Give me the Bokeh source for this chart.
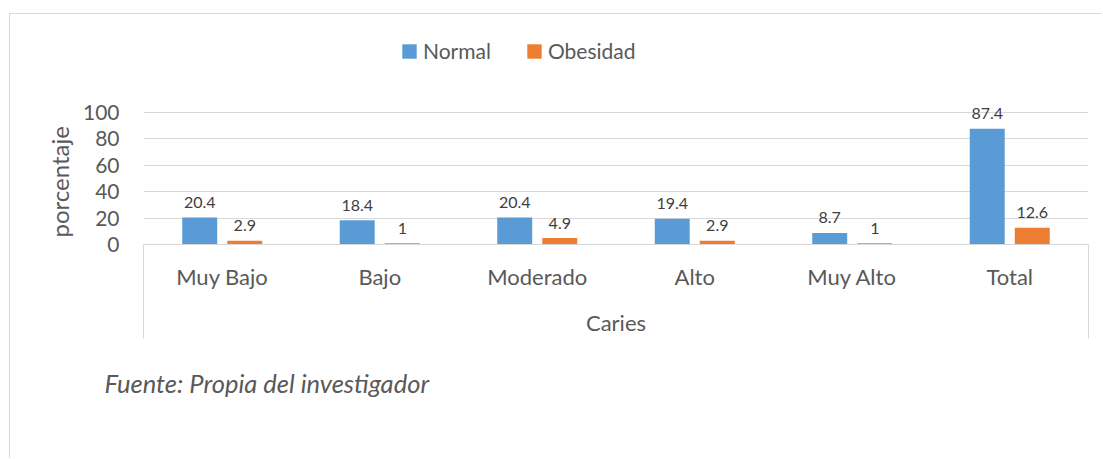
from bokeh.plotting import figure
from bokeh.models import (Range1d, LinearAxis, FixedTicker, Title,
                          Legend, LegendItem, ColumnDataSource)
from bokeh.transform import dodge
from bokeh.core.properties import value
from bokeh.embed import file_html
from bokeh.resources import INLINE

# ---- data ----
categories = ["Muy Bajo", "Bajo", "Moderado", "Alto", "Muy Alto", "Total"]
normal = [20.4, 18.4, 20.4, 19.4, 8.7, 87.4]
obesidad = [2.9, 1, 4.9, 2.9, 1, 12.6]
y_ticks = [0, 20, 40, 60, 80, 100]
series_names = ["Normal", "Obesidad"]
x_title = "Caries"
y_title = "porcentaje"
source_note = "Fuente: Propia del investigador"

# ---- style ----
colors = ["#5B9BD5", "#ED7D31"]
FONT = "Lato"
TXT = "#595959"
LBL = "#404040"
GRID = "#D9D9D9"
W, H = 1092, 445

n = len(categories)
src = ColumnDataSource(dict(
    xi=list(range(n)),
    cat=categories,
    normal=normal,
    obesidad=obesidad,
    normal_lbl=[f"{v:g}" for v in normal],
    obes_lbl=[f"{v:g}" for v in obesidad],
))

p = figure(width=W, height=H, output_backend="svg", toolbar_location=None,
           x_range=Range1d(-0.5, n - 0.5), y_range=Range1d(0, 169.3), x_axis_type=None,
           min_border_left=133, min_border_right=14, min_border_top=6, min_border_bottom=215)
p.outline_line_color = None
p.background_fill_color = "white"
p.border_fill_color = "white"
p.styles = {"position": "relative", "left": "9px", "top": "13px",
            "border-left": "1px solid #D9D9D9", "border-top": "1px solid #D9D9D9"}

# y axis
p.yaxis.ticker = FixedTicker(ticks=y_ticks)
p.yaxis.axis_line_color = None
p.yaxis.major_tick_line_color = None
p.yaxis.minor_tick_line_color = None
p.yaxis.major_tick_out = 0
p.yaxis.major_label_standoff = 24
p.yaxis.major_label_text_font = FONT
p.yaxis.major_label_text_font_size = "21px"
p.yaxis.major_label_text_color = TXT
p.ygrid.grid_line_color = GRID
p.ygrid.ticker = FixedTicker(ticks=y_ticks)

# x axis (category labels + outer boundary ticks)
xaxis = LinearAxis(ticker=FixedTicker(ticks=list(range(n)), minor_ticks=[-0.5, n - 0.5]),
                   major_label_overrides={i: c for i, c in enumerate(categories)},
                   axis_label=x_title)
xaxis.axis_line_color = GRID
xaxis.major_tick_line_color = None
xaxis.major_tick_out = 0
xaxis.major_tick_in = 0
xaxis.minor_tick_line_color = GRID
xaxis.minor_tick_out = 94
xaxis.minor_tick_in = 0
xaxis.major_label_standoff = -76
xaxis.major_label_text_font = FONT
xaxis.major_label_text_font_size = "22px"
xaxis.major_label_text_color = TXT
xaxis.axis_label_standoff = 16
xaxis.axis_label_text_font = FONT
xaxis.axis_label_text_font_size = "22px"
xaxis.axis_label_text_font_style = "normal"
xaxis.axis_label_text_color = TXT
p.add_layout(xaxis, "below")

# y title
p.add_layout(Title(text=y_title, align="left", offset=7, standoff=11,
                   text_font=FONT, text_font_size="24px", text_font_style="normal",
                   text_color=TXT), "left")
# source note
p.add_layout(Title(text=source_note, align="left", offset=-39, standoff=54,
                   text_font=FONT, text_font_size="25.5px", text_font_style="italic",
                   text_color=TXT), "below")

# bars
off, bw = 0.143, 0.222
r1 = p.vbar(x=dodge("xi", -off), top="normal", width=bw, source=src,
            fill_color=colors[0], line_color=None)
r2 = p.vbar(x=dodge("xi", off), top="obesidad", width=bw, source=src,
            fill_color=colors[1], line_color=None)

for col, lbl, o in (("normal", "normal_lbl", -off), ("obesidad", "obes_lbl", off)):
    p.text(x=dodge("xi", o), y=col, text=lbl, source=src,
           text_align="center", text_baseline="alphabetic", y_offset=-15,
           text_font=value(FONT), text_font_size="16px", text_color=LBL)

legend = Legend(items=[LegendItem(label=series_names[0], renderers=[r1]),
                       LegendItem(label=series_names[1], renderers=[r2])],
                location=(257, 181), orientation="horizontal",
                glyph_width=18, glyph_height=18, label_standoff=5, spacing=34,
                padding=0, margin=0, border_line_color=None, background_fill_alpha=0,
                label_text_font=FONT, label_text_font_size="21px", label_text_color=TXT)
p.add_layout(legend)

open("out.html", "w").write(file_html(p, INLINE))
